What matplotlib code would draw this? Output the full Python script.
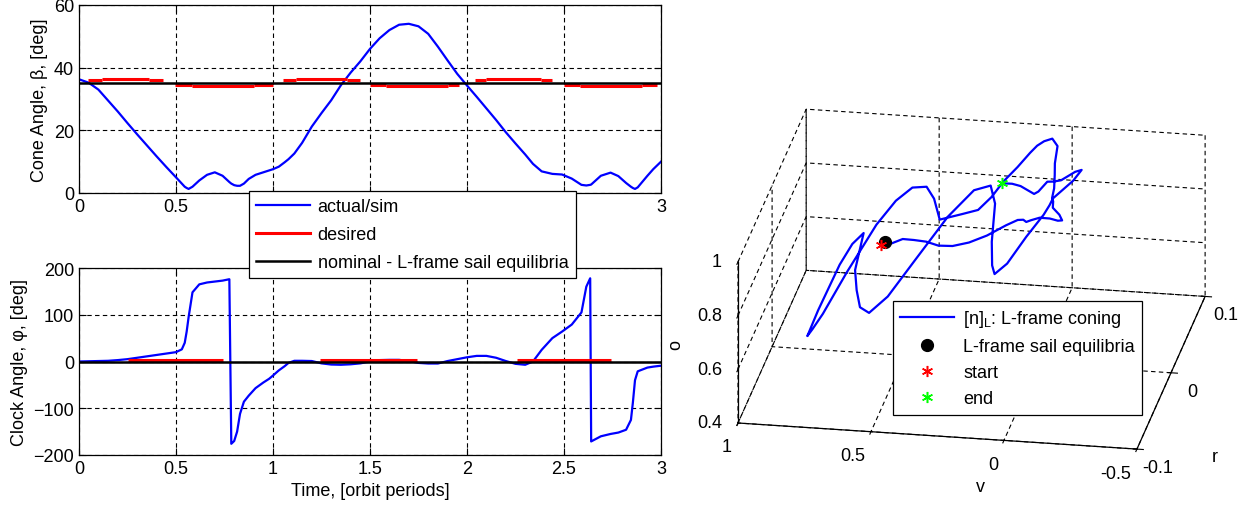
"""
Sail attitude history: cone / clock angle vs time and L-frame coning path.
"""

import numpy as np
import matplotlib
matplotlib.use('Agg')
import matplotlib.pyplot as plt
from matplotlib.ticker import FuncFormatter, NullFormatter
from matplotlib.transforms import IdentityTransform
from mpl_toolkits.mplot3d import proj3d

plt.rcParams['font.family'] = ['Liberation Sans', 'DejaVu Sans']
plt.rcParams['font.size'] = 13
plt.rcParams['mathtext.default'] = 'regular'

# ---------------------------------------------------------------------------
# Data (time in orbit periods, angles in deg)
# ---------------------------------------------------------------------------
t_orbit = [0.0, 0.05, 0.10, 0.15, 0.20, 0.25, 0.30, 0.35, 0.40, 0.45,
           0.50, 0.53, 0.545, 0.555, 0.565, 0.585, 0.62, 0.66, 0.70, 0.74,
           0.775, 0.785, 0.80, 0.815, 0.83, 0.85, 0.875, 0.91, 0.95, 0.98,
           1.00, 1.03, 1.06, 1.08, 1.11, 1.15, 1.20, 1.25, 1.30, 1.35,
           1.40, 1.45, 1.50, 1.55, 1.60, 1.65, 1.70, 1.75, 1.80, 1.85,
           1.90, 1.95, 2.00, 2.05, 2.10, 2.15, 2.20, 2.25, 2.30, 2.34,
           2.385, 2.44, 2.49, 2.54, 2.59, 2.615, 2.635, 2.64, 2.69, 2.74,
           2.78, 2.82, 2.845, 2.855, 2.866, 2.88, 2.93, 2.96, 3.00]

cone_deg = [36.3, 35.2, 33.0, 29.5, 26.0, 22.3, 18.7, 15.2, 11.7, 8.3,
            5.0, 3.0, 2.0, 1.6, 1.3, 2.0, 4.0, 5.8, 6.6, 5.5,
            3.5, 3.0, 2.5, 2.3, 2.3, 3.0, 4.5, 5.8, 6.6, 7.2,
            7.6, 8.4, 9.8, 10.8, 12.6, 16.0, 21.2, 25.5, 29.6, 34.4,
            38.4, 42.0, 46.0, 49.4, 52.0, 53.7, 54.0, 53.2, 50.8, 46.7,
            42.3, 38.0, 34.3, 30.7, 27.0, 23.3, 19.4, 15.8, 12.3, 9.3,
            6.9, 6.1, 5.9, 4.6, 2.6, 2.4, 2.6, 2.7, 5.5, 6.5,
            5.4, 3.2, 2.0, 1.6, 1.3, 1.8, 5.5, 7.6, 10.0]

clock_deg = [0.0, 0.5, 1.0, 1.5, 3.0, 5.0, 8.0, 11.0, 14.0, 17.0,
             20.0, 26.0, 40.0, 64.0, 95.0, 148.0, 165.0, 169.0, 171.0, 173.0,
             176.0, -176.0, -170.0, -150.0, -112.0, -86.0, -73.0, -57.0, -45.0, -37.0,
             -30.0, -19.0, -10.0, -3.0, 1.5, 1.5, 1.0, -4.0, -6.5, -7.0,
             -6.0, -4.0, 0.0, 3.0, 3.5, 3.5, 1.0, -3.0, -4.3, -4.3,
             1.0, 5.0, 9.0, 12.0, 12.0, 8.0, 1.0, -5.0, -7.0, 0.0,
             25.0, 50.0, 64.0, 79.0, 105.0, 160.0, 178.0, -171.0, -160.0, -155.0,
             -152.0, -146.0, -125.0, -88.0, -40.0, -21.0, -13.0, -11.0, -9.0]

# desired (commanded) angles: piecewise constant segments
des_cone_start = [0.046, 0.12, 0.36, 0.495, 0.58, 0.90, 1.05, 1.12, 1.38,
                  1.50, 1.58, 1.90, 2.04, 2.10, 2.38, 2.50, 2.58, 2.90]
des_cone_end = [0.12, 0.36, 0.433, 0.58, 0.90, 1.00, 1.12, 1.38, 1.45,
                1.58, 1.90, 1.96, 2.10, 2.38, 2.44, 2.58, 2.90, 2.98]
des_cone_val = [36.0, 36.4, 36.0, 34.6, 34.3, 34.6, 36.0, 36.4, 36.0,
                34.6, 34.3, 34.6, 36.0, 36.4, 36.0, 34.6, 34.3, 34.6]

des_clock_start = [0.25, 1.24, 2.26]
des_clock_end = [0.74, 1.74, 2.74]
des_clock_val = [3.0, 3.0, 3.0]

# nominal L-frame sail equilibrium
nominal_cone = 35.26
nominal_clock = 0.0

time_ticks = [0, 0.5, 1, 1.5, 2, 2.5, 3]
r_ticks = [-0.1, 0, 0.1]
v_ticks = [-0.5, 0, 0.5, 1]
o_ticks = [0.4, 0.6, 0.8, 1]

BLUE, RED, GREEN = '#0000ff', '#ff0000', '#00ff00'
W, H = 1256, 510
fmt_g = FuncFormatter(lambda v, _: '{:g}'.format(v))
dash = (0, (4, 3))


def style_2d(ax):
    ax.set_xlim(0, 3)
    ax.set_xticks(time_ticks)
    ax.xaxis.set_major_formatter(fmt_g)
    ax.tick_params(direction='in', top=True, right=True, length=5, width=0.8)
    ax.grid(True, color='k', linestyle=dash, linewidth=0.8)
    for s in ax.spines.values():
        s.set_linewidth(0.9)


fig = plt.figure(figsize=(W / 100, H / 100), dpi=100)

# --- cone angle ------------------------------------------------------------
ax1 = fig.add_axes([79 / W, 1 - 194 / H, 582 / W, 188 / H])
l_act, = ax1.plot(t_orbit, cone_deg, color=BLUE, lw=1.6)
ax1.hlines(des_cone_val, des_cone_start, des_cone_end, color=RED, lw=2.2)
l_des, = ax1.plot([], [], color=RED, lw=2.2)
l_nom = ax1.axhline(nominal_cone, color='k', lw=1.8)
ax1.set_ylim(0, 60)
ax1.set_yticks([0, 20, 40, 60])
ax1.set_ylabel('Cone Angle, β, [deg]')
style_2d(ax1)
# labels 1 .. 2.5 sit under the legend box
ax1.set_xticklabels(['0', '0.5', '', '', '', '', '3'])

# --- clock angle -----------------------------------------------------------
ax2 = fig.add_axes([79 / W, 1 - 456 / H, 582 / W, 187 / H])
ax2.plot(t_orbit, clock_deg, color=BLUE, lw=1.6)
ax2.hlines(des_clock_val, des_clock_start, des_clock_end, color=RED, lw=2.2)
ax2.axhline(nominal_clock, color='k', lw=1.8)
ax2.set_ylim(-200, 200)
ax2.set_yticks([-200, -100, 0, 100, 200])
ax2.set_ylabel('Clock Angle, φ, [deg]')
ax2.set_xlabel('Time, [orbit periods]')
style_2d(ax2)

leg = fig.legend([l_act, l_des, l_nom],
                 ['actual/sim', 'desired', 'nominal - L-frame sail equilibria'],
                 loc='upper left', bbox_to_anchor=(249 / W, 1 - 192 / H),
                 bbox_transform=fig.transFigure, borderaxespad=0,
                 handlelength=3.0, handletextpad=0.4, borderpad=0.4,
                 labelspacing=0.6, fancybox=False, framealpha=1,
                 edgecolor='k')
leg.get_frame().set_linewidth(0.9)

# --- 3D coning path --------------------------------------------------------
beta = np.radians(cone_deg)
phi = np.radians(clock_deg)
n_r = -np.sin(beta) * np.sin(phi)
n_v = np.sin(beta) * np.cos(phi)
n_o = np.cos(beta)
b0 = np.radians(nominal_cone)

ax3 = fig.add_axes([0.56, 0.05, 0.42, 0.9], projection='3d',
                   computed_zorder=False)
ax3.set_proj_type('ortho')
ax3.view_init(elev=22.5, azim=-170.3)
ax3.set_box_aspect((1, 1, 0.431))

h_path, = ax3.plot(n_r, n_v, n_o, color=BLUE, lw=1.6)
h_eq, = ax3.plot([0.0], [np.sin(b0)], [np.cos(b0)], 'o', color='k', ms=8.5,
                 linestyle='none')
h_st, = ax3.plot([n_r[0]], [n_v[0]], [n_o[0]], marker=(6, 2, 0), color=RED,
                 ms=8, mew=1.1, linestyle='none')
h_en, = ax3.plot([n_r[-1]], [n_v[-1]], [n_o[-1]], marker=(6, 2, 0),
                 color=GREEN, ms=8, mew=1.1, linestyle='none')

ax3.set_xlim(-0.1, 0.1)
ax3.set_ylim(-0.5, 1.0)
ax3.set_zlim(0.4, 1.0)
ax3.set_xticks(r_ticks)
ax3.set_yticks(v_ticks)
ax3.set_zticks(o_ticks)
for axis in (ax3.xaxis, ax3.yaxis, ax3.zaxis):
    axis.set_major_formatter(fmt_g)
    axis.pane.fill = False
    axis.pane.set_edgecolor('none')
    axis._axinfo['grid'].update(color='k', linestyle=dash, linewidth=0.8)
    axis.line.set_linewidth(0.9)
# v and o tick labels are written below, next to their ticks
ax3.yaxis.set_major_formatter(NullFormatter())
ax3.zaxis.set_major_formatter(NullFormatter())

leg3 = ax3.legend([h_path, h_eq, h_st, h_en],
                  ['[n]$_{L}$: L-frame coning', 'L-frame sail equilibria',
                   'start', 'end'],
                  loc='upper left', bbox_to_anchor=(893 / W, 1 - 302 / H),
                  bbox_transform=fig.transFigure, borderaxespad=0,
                  handlelength=3.0, handletextpad=0.5, borderpad=0.4,
                  labelspacing=0.5, fancybox=False, framealpha=1,
                  edgecolor='k')
leg3.get_frame().set_linewidth(0.9)

# axis names, placed where the reference shows them
fig.text(980 / W, 1 - 487 / H, 'v', ha='center', va='center')
fig.text(1215 / W, 1 - 458 / H, 'r', ha='center', va='center')
fig.text(676 / W, 1 - 345 / H, 'o', ha='center', va='center', rotation=90)

# place the 3D box: front-left-bottom and back-right-bottom corners
corners = np.array([[-0.1, 1.0, 0.4], [0.1, -0.5, 0.4]])
targets = np.array([[738.0, H - 424.0], [1205.0, H - 297.0]])


def to_px(x, y, z):
    xs, ys, _ = proj3d.proj_transform(np.atleast_1d(x).astype(float),
                                      np.atleast_1d(y).astype(float),
                                      np.atleast_1d(z).astype(float),
                                      ax3.get_proj())
    return ax3.transData.transform(np.column_stack([xs, ys]))


for _ in range(3):
    fig.canvas.draw()
    px = to_px(corners[:, 0], corners[:, 1], corners[:, 2])
    bb = ax3.get_position()
    side = bb.width * W
    cen = np.array([(bb.x0 + bb.width / 2) * W, (bb.y0 + bb.height / 2) * H])
    s = np.linalg.norm(targets[1] - targets[0]) / np.linalg.norm(px[1] - px[0])
    cen_new = targets[0] - s * (px[0] - cen)
    side *= s
    ax3.set_position([(cen_new[0] - side / 2) / W, (cen_new[1] - side / 2) / H,
                      side / W, side / H])

fig.canvas.draw()
px_trans = IdentityTransform()
for o in o_ticks:
    p = to_px(-0.1, 1.0, o)[0]
    fig.text(p[0] - 16, p[1], '{:g}'.format(o), transform=px_trans,
             ha='right', va='center')
for v in v_ticks:
    p = to_px(-0.1, v, 0.4)[0]
    fig.text(p[0] - 6, p[1] - 24, '{:g}'.format(v), transform=px_trans,
             ha='right', va='center')

fig.savefig('out.png', dpi=100)
